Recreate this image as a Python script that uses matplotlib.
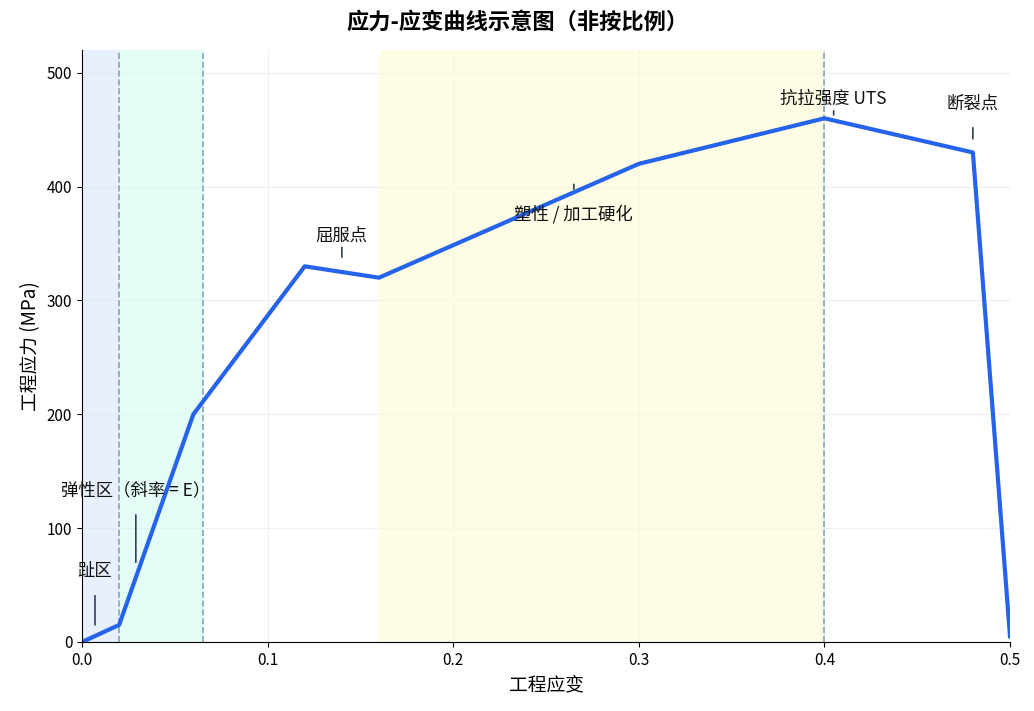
import matplotlib
matplotlib.use("Agg")
import matplotlib.pyplot as plt

plt.rcParams['font.family'] = ['Noto Sans CJK SC', 'DejaVu Sans']

strain = [0.0, 0.02, 0.06, 0.12, 0.16, 0.30, 0.40, 0.48, 0.50]
stress = [0, 15, 200, 330, 320, 420, 460, 430, 5]

annots = [
    ("趾区", (0.007, 15), (0.007, 62)),
    ("弹性区（斜率 = E）", (0.029, 70), (0.029, 133)),
    ("屈服点", (0.14, 338), (0.14, 357)),
    ("塑性 / 加工硬化", (0.265, 402), (0.265, 376)),
    ("抗拉强度 UTS", (0.405, 463), (0.405, 477)),
    ("断裂点", (0.48, 442), (0.48, 473)),
]

fig = plt.figure(figsize=(10.34, 7.11), dpi=100)
ax = fig.add_axes([82/1034, 1-642/711, (1010-82)/1034, (642-50)/711])
ax.axvspan(0, 0.02, color='#dbe7fd', alpha=0.6, lw=0)
ax.axvspan(0.02, 0.065, color='#ccfdf0', alpha=0.5, lw=0)
ax.axvspan(0.16, 0.40, color='#fdfbd9', alpha=0.7, lw=0)
for x in [0.02, 0.065, 0.40]:
    ax.axvline(x, color='#6b8fa8', ls='--', lw=1.2, alpha=0.8)
ax.grid(True, color='#e5e7eb', lw=0.8, alpha=0.7)
ax.set_axisbelow(True)
ax.plot(strain, stress, color='#2563eb', lw=3)
for t, xy, xyt in annots:
    ax.annotate(t, xy=xy, xytext=xyt, ha='center', va='center', fontsize=12.5,
                color='#111', arrowprops=dict(arrowstyle='-', color='#334155', lw=1.2, shrinkA=9, shrinkB=0))
ax.set_xlim(0, 0.5)
ax.set_ylim(0, 520)
ax.set_xticks([0, 0.1, 0.2, 0.3, 0.4, 0.5])
ax.set_yticks([0, 100, 200, 300, 400, 500])
ax.tick_params(labelsize=11)
for s in ['top', 'right']:
    ax.spines[s].set_visible(False)
ax.set_xlabel('工程应变', fontsize=13.5)
ax.set_ylabel('工程应力 (MPa)', fontsize=13.5)
fig.suptitle('应力-应变曲线示意图（非按比例）', fontsize=16, fontweight='bold', y=0.985)
fig.savefig('out.png', dpi=100)
